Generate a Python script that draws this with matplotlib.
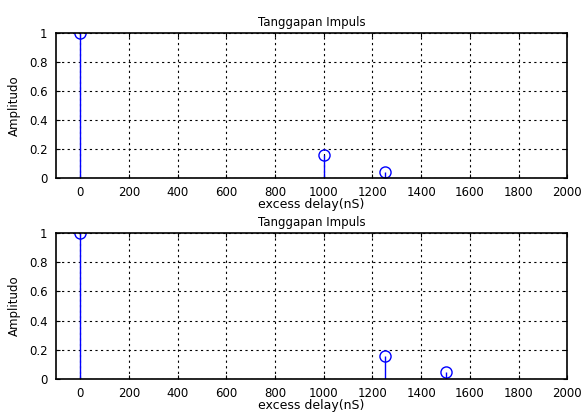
import matplotlib
matplotlib.use("Agg")
import matplotlib.pyplot as plt

# data: excess delay (nS) and amplitude for two channel impulse responses
delay_1 = [0, 1000, 1250]
amp_1 = [1.0, 0.16, 0.045]
delay_2 = [0, 1250, 1500]
amp_2 = [1.0, 0.16, 0.05]

title_txt = "Tanggapan Impuls"
xlabel_txt = "excess delay(nS)"
ylabel_txt = "Amplitudo"
xticks = [0, 200, 400, 600, 800, 1000, 1200, 1400, 1600, 1800, 2000]
yticks = [0, 0.2, 0.4, 0.6, 0.8, 1]

plt.rcParams['font.family'] = ['DejaVu Sans']

fig = plt.figure(figsize=(5.83, 4.16), dpi=100)
ax1 = fig.add_axes([0.096, 0.572, 0.877, 0.349])
ax2 = fig.add_axes([0.096, 0.089, 0.877, 0.351])

for ax, x, y in [(ax1, delay_1, amp_1), (ax2, delay_2, amp_2)]:
    ml, sl, bl = ax.stem(x, y, basefmt=" ")
    plt.setp(sl, color="blue", linewidth=1)
    plt.setp(ml, color="blue", marker="o", markerfacecolor="none",
             markersize=8, markeredgewidth=1)
    ax.set_xlim(-100, 2000)
    ax.set_ylim(0, 1)
    ax.set_xticks(xticks)
    ax.set_yticks(yticks)
    ax.set_yticklabels(["0", "0.2", "0.4", "0.6", "0.8", "1"])
    ax.grid(True, color="black", linestyle=(0, (2, 3)), linewidth=0.8)
    ax.tick_params(direction="in", length=3, top=True, right=True, pad=6,
                   labelsize=8.5)
    for s in ax.spines.values():
        s.set_linewidth(1.2)
    ax.set_title(title_txt, fontsize=8.5, pad=5)
    ax.set_xlabel(xlabel_txt, fontsize=9, labelpad=-1)
    ax.set_ylabel(ylabel_txt, fontsize=8.5, labelpad=6)

fig.savefig("out.png", dpi=100)
